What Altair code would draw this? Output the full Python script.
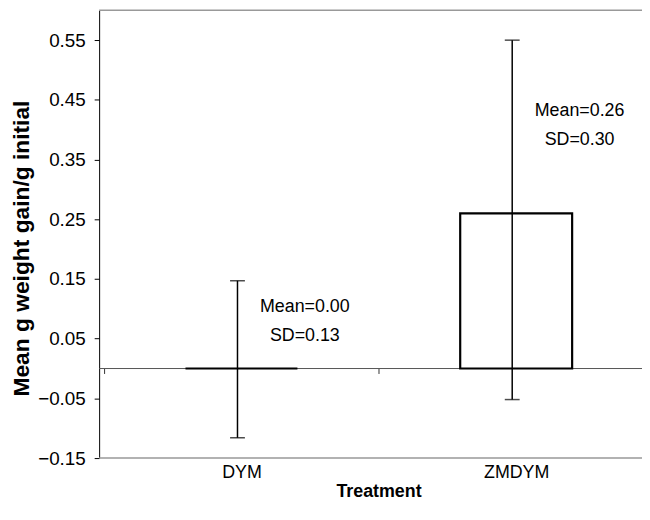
import altair as alt
import pandas as pd

categories = ["DYM", "ZMDYM"]
positions = [0.5, 1.5]
means = [0.0, 0.26]
err_low = [-0.116, -0.052]
err_high = [0.147, 0.55]
mean_labels = ["Mean=0.00", "Mean=0.26"]
sd_labels = ["SD=0.13", "SD=0.30"]
mean_label_y = [0.103, 0.431]
sd_label_y = [0.054, 0.382]
y_ticks = [-0.15, -0.05, 0.05, 0.15, 0.25, 0.35, 0.45, 0.55]
y_min, y_max = -0.15, 0.6
x_max = 1.94

df = pd.DataFrame({"cat": categories, "pos": positions, "mean": means, "lo": err_low, "hi": err_high})
notes = pd.DataFrame({
    "pos": positions * 2,
    "txt": mean_labels + sd_labels,
    "y": mean_label_y + sd_label_y,
})
frame = pd.DataFrame({"edge": [y_min, y_max]})
zero_df = pd.DataFrame({"z": [0.0]})

FONT = "Liberation Sans"
PLOT_H = 452
xscale = alt.Scale(domain=[0, x_max], nice=False, zero=False)
yscale = alt.Scale(domain=[y_min, y_max], nice=False, zero=False)

label_expr = " : ".join(
    [f"datum.value == {p} ? '{c}'" for p, c in zip(positions[:-1], categories[:-1])]
    + [f"'{categories[-1]}'"]
)

yaxis = alt.Axis(values=y_ticks, format=".2f", grid=False, domainColor="black",
                 tickColor="black", tickSize=5, labelFontSize=19, labelFont=FONT,
                 labelColor="black", labelPadding=9, title="Mean g weight gain/g initial",
                 titleFont=FONT, titleFontSize=23, titleFontWeight="bold",
                 titleX=-78, titleY=240, titleAlign="center", titleBaseline="middle",
                 titleAngle=-90, titleColor="black")

xaxis = alt.Axis(orient="bottom", values=positions, labelExpr=label_expr,
                 ticks=False, domain=False, grid=False,
                 labelFontSize=18, labelFont=FONT, labelColor="black", labelAngle=0,
                 labelPadding=6, title="Treatment", titleFont=FONT, titleFontSize=18,
                 titleFontWeight="bold", titlePadding=1, titleColor="black",
                 titleX=282, titleAnchor="middle")

zero_axis = alt.Axis(orient="bottom", offset=-(PLOT_H * 0.15 / 0.75), values=[0, 1],
                     labels=False, domain=False, ticks=True, tickColor="#333",
                     tickSize=5, title=None, grid=False)

base = alt.Chart(df)

frame_lines = alt.Chart(frame).mark_rule(color="#999", strokeWidth=1.5).encode(
    y=alt.Y("edge:Q", scale=yscale, axis=yaxis)
)
zero_line = alt.Chart(zero_df).mark_rule(color="#555", strokeWidth=1).encode(
    y=alt.Y("z:Q")
)

bars = base.mark_bar(fill="white", stroke="black", strokeWidth=2.2, size=113).encode(
    x=alt.X("pos:Q", scale=xscale, axis=xaxis),
    y=alt.Y("mean:Q"),
)

err_rule = base.mark_rule(color="black", strokeWidth=1.5, xOffset=-4).encode(
    x=alt.X("pos:Q", axis=zero_axis),
    y=alt.Y("lo:Q"),
    y2="hi:Q",
)
cap_lo = base.mark_tick(color="black", thickness=1.5, size=15, xOffset=-4, orient="horizontal").encode(
    x=alt.X("pos:Q", axis=None), y="lo:Q")
cap_hi = base.mark_tick(color="black", thickness=1.5, size=15, xOffset=-4, orient="horizontal").encode(
    x=alt.X("pos:Q", axis=None), y="hi:Q")

texts = alt.Chart(notes).mark_text(font=FONT, fontSize=18, color="black", xOffset=64,
                                   align="center", baseline="middle").encode(
    x=alt.X("pos:Q", axis=None), y="y:Q", text="txt:N")

chart = alt.layer(frame_lines, zero_line, bars, err_rule, cap_lo, cap_hi, texts).resolve_axis(
    x="independent"
).properties(
    width=548, height=PLOT_H,
    background="white",
    autosize=alt.AutoSizeParams(type="none"),
    padding={"left": 92, "top": 0, "right": 0, "bottom": 40},
).configure_view(strokeWidth=0, stroke="transparent")

chart.save("out.html", embed_options={"renderer": "svg", "actions": False})
